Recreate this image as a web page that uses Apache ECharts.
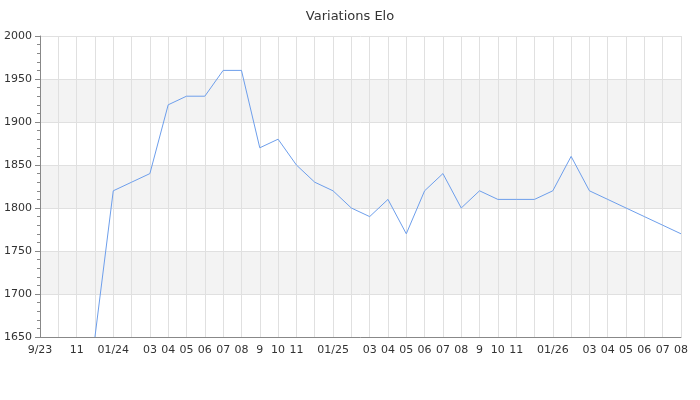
<!DOCTYPE html>
<html><head><meta charset="utf-8">
<script src="https://cdn.jsdelivr.net/npm/echarts@6/dist/echarts.min.js"></script>
<style>html,body{margin:0;padding:0;background:#fff}#c{width:700px;height:400px}</style>
</head><body><div id="c"></div>
<script>
var months = ['2023-09','2023-10','2023-11','2023-12','2024-01','2024-02','2024-03','2024-04','2024-05','2024-06','2024-07','2024-08','2024-09','2024-10','2024-11','2024-12','2025-01','2025-02','2025-03','2025-04','2025-05','2025-06','2025-07','2025-08','2025-09','2025-10','2025-11','2025-12','2026-01','2026-02','2026-03','2026-04','2026-05','2026-06','2026-07','2026-08'];
var tickLabels = ['9/23','','11','','01/24','','03','04','05','06','07','08','9','10','11','','01/25','','03','04','05','06','07','08','9','10','11','','01/26','','03','04','05','06','07','08'];
var elo = [null,null,null,1650,1820,1830,1840,1920,1930,1930,1960,1960,1870,1880,1850,1830,1820,1800,1790,1810,1770,1820,1840,1800,1820,1810,1810,1810,1820,1860,1820,1810,1800,1790,1780,1770];
var chart = echarts.init(document.getElementById('c'));
chart.setOption({
  animation:false,
  title:{text:'Variations Elo',left:'center',top:5,textStyle:{fontFamily:'DejaVu Sans',fontSize:13,fontWeight:'normal',color:'#333'}},
  grid:{left:40,right:19,top:36,bottom:63},
  xAxis:{type:'category',data:months,boundaryGap:false,
    axisLine:{lineStyle:{color:'#888'}},axisTick:{show:false},
    axisLabel:{interval:0,fontFamily:'DejaVu Sans',fontSize:11,color:'#333',margin:8,formatter:function(v,i){return tickLabels[i];}},
    splitLine:{show:true,interval:0,lineStyle:{color:'#e0e0e0'}}},
  yAxis:{type:'value',min:1650,max:2000,interval:50,
    axisLine:{show:true,lineStyle:{color:'#888'}},axisTick:{show:true,lineStyle:{color:'#888'}},
    minorTick:{show:true,splitNumber:5,length:3,lineStyle:{color:'#888'}},
    axisLabel:{fontFamily:'DejaVu Sans',fontSize:11,color:'#333',formatter:function(v){return String(v);}},
    splitLine:{lineStyle:{color:'#e0e0e0'}},
    splitArea:{show:true,areaStyle:{color:['rgba(255,255,255,0)','#f3f3f3']}}},
  series:[{type:'line',data:elo,showSymbol:false,symbol:'none',lineStyle:{color:'#6d9eeb',width:1},connectNulls:false}]
});
</script></body></html>
